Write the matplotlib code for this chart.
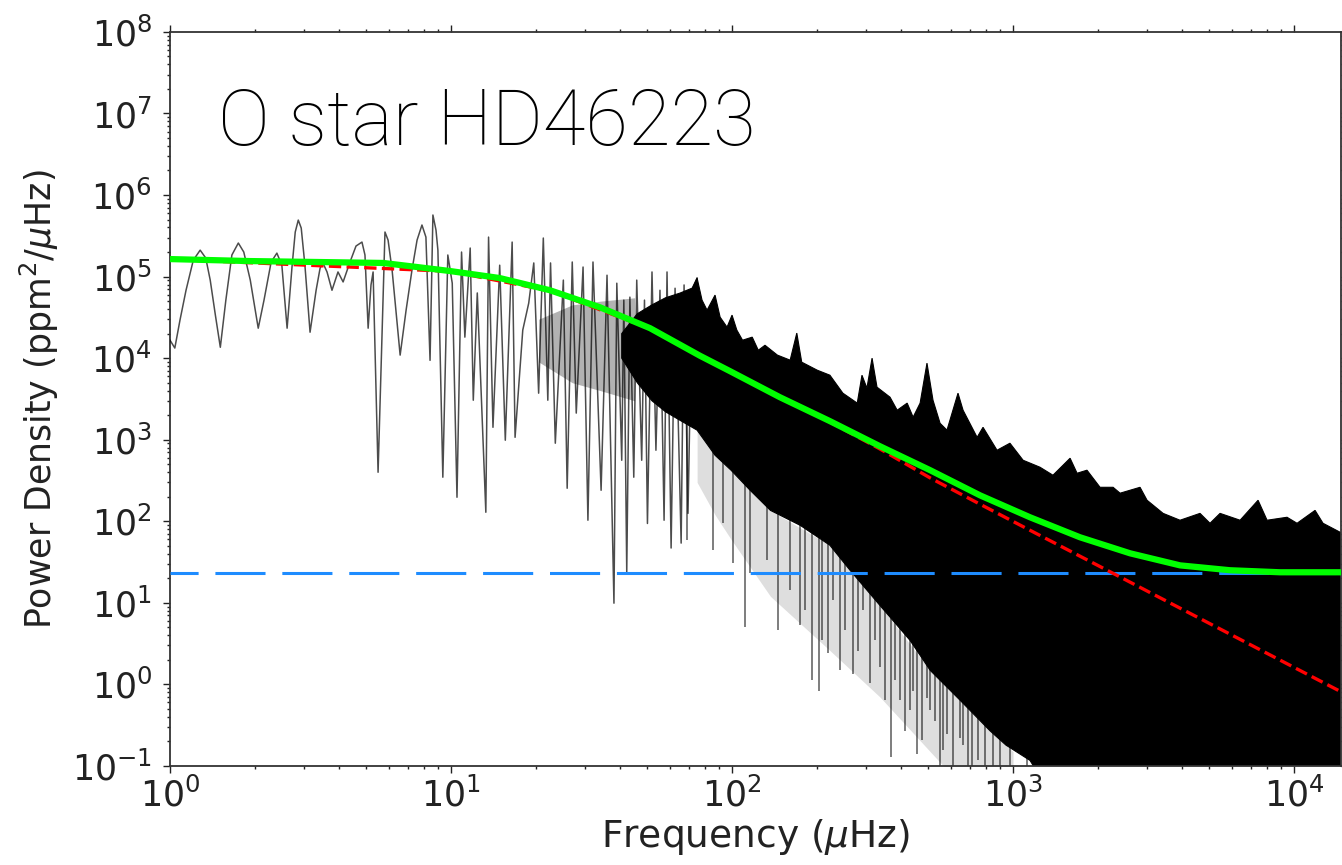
import numpy as np
import matplotlib
matplotlib.use("Agg")
import matplotlib.pyplot as plt
from matplotlib.ticker import LogLocator, NullFormatter

# ---------------- data ----------------
# low-frequency part of the power spectrum (individually resolved wiggles + spikes)
spec_freq = [1.00, 1.04, 1.085, 1.14, 1.21, 1.28, 1.34, 1.39, 1.45, 1.51, 1.58, 1.66,
             1.75, 1.83, 1.93, 2.06, 2.16, 2.29, 2.40, 2.50, 2.61, 2.72, 2.79, 2.86,
             2.93, 3.02, 3.15, 3.31, 3.42, 3.50, 3.62, 3.77, 3.96, 4.13, 4.37, 4.59,
             4.82, 4.94, 5.07, 5.19, 5.28, 5.50, 5.82, 5.97, 6.17, 6.59, 6.92, 7.26,
             7.57, 7.88, 8.14, 8.42, 8.62, 8.84, 8.98, 9.35, 9.74, 10.1, 10.5, 10.9,
             11.2, 11.7, 12.0, 12.4, 13.3, 13.6, 14.1, 14.9, 15.6, 16.5, 16.9, 18.0,
             18.9, 19.7, 20.5, 21.3, 22.1, 22.6, 23.5, 25.1, 25.9, 27.0, 27.9, 29.5,
             30.7, 32.0, 34.2, 35.9, 38.0, 38.9, 40.5, 41.2, 42.2, 43.3, 44.7, 45.8,
             47.7, 48.8, 50.0, 51.9, 53.6, 55.4, 57.3, 58.7, 60.7, 62.7, 65.9, 67.5,
             69.7, 72.1, 75.1]
spec_power = [1.66e4, 1.33e4, 2.93e4, 6.8e4, 1.59e5, 2.11e5, 1.69e5, 9.06e4, 3.37e4, 1.36e4, 5.15e4, 1.84e5,
              2.58e5, 2.0e5, 9.06e4, 2.33e4, 5.15e4, 1.51e5, 1.94e5, 1.38e5, 2.33e4, 1.38e5, 3.52e5, 4.93e5,
              3.94e5, 1.38e5, 2.08e4, 6.8e4, 1.27e5, 1.47e5, 1.14e5, 6.8e4, 1.14e5, 8.6e4, 1.51e5, 2.37e5,
              2.65e5, 1.84e5, 2.33e4, 7.9e4, 1.14e5, 399, 3.52e5, 2.8e5, 1.2e5, 1.09e4, 3.88e4, 1.2e5,
              2.8e5, 4.29e5, 3.05e5, 9.4e3, 5.69e5, 3.72e5, 2.11e5, 347, 1.84e5, 8.3e4, 197, 2.0e5,
              1.81e4, 2.24e5, 3.05e3, 6.3e4, 129, 3.05e5, 1.42e3, 1.38e5, 986, 2.65e5, 1.07e3, 2.21e4,
              4.73e4, 1.47e5, 3.72e3, 2.97e5, 3.05e3, 1.47e5, 906, 9.06e4, 254, 1.51e5, 2.12e3, 1.31e5,
              103, 1.51e5, 240, 1.04e5, 9.9, 8.3e4, 560, 5.15e4, 23.7, 5.6e4, 347, 9.06e4,
              560, 5.15e4, 94, 1.14e5, 743, 6.8e4, 103, 1.14e5, 47, 7.2e4, 54, 7.9e4,
              125, 6.8e4, 9.6e4]

# semi-dense body of overlapping periodogram lines (20-45 uHz)
body_freq = [20.5, 27.0, 34.0, 45.0]
body_upper = [3.0e4, 4.5e4, 5.0e4, 5.5e4]
body_lower = [9.0e3, 5.0e3, 4.0e3, 3.0e3]

# upper edge of the fully dense (black) part of the spectrum
top_freq = [40.5, 46.0, 51.9, 58.0, 65.3, 72.1, 75.1, 78.2, 81.5, 87.0, 90.7, 96.0, 100, 104, 109,
            118, 124, 131, 145, 161, 170, 177, 201, 223, 248, 279, 290, 302, 315, 328, 365, 387,
            420, 441, 467, 494, 519, 550, 582, 637, 664, 745, 782, 877, 975, 1086, 1247, 1387,
            1596, 1690, 1833, 2040, 2270, 2404, 2831, 2999, 3420, 3929, 4628, 5023, 5454, 6427,
            7447, 8017, 9441, 10250, 11880, 12680, 14820]
top_power = [2.0e4, 3.5e4, 4.5e4, 5.5e4, 6.28e4, 7.22e4, 9.6e4, 5.15e4, 3.88e4, 5.93e4, 3.18e4, 2.40e4,
             3.37e4, 2.21e4, 1.66e4, 1.81e4, 1.25e4, 1.44e4, 1.09e4, 9.45e3, 2.03e4, 8.93e3, 7.12e3,
             6.18e3, 3.72e3, 2.81e3, 6.18e3, 4.29e3, 1.0e4, 4.41e3, 3.32e3, 2.30e3, 2.81e3, 1.89e3,
             2.81e3, 8.69e3, 3.05e3, 1.59e3, 1.31e3, 3.72e3, 2.30e3, 1.07e3, 1.42e3, 743, 906, 560,
             460, 367, 593, 388, 423, 261, 261, 221, 261, 181, 125, 103, 125, 94.5, 125, 103, 181,
             103, 112, 94.5, 136, 94.5, 71.3]

# lower edge of the fully dense (black) part
bot_freq = [40.5, 46.0, 51.9, 58.0, 65.3, 75.1, 87.0, 99.2, 116, 137, 175, 223, 263, 336, 430,
            507, 648, 828, 944, 1149, 1469, 14820]
bot_power = [1.0e4, 5.0e3, 3.0e3, 2.2e3, 1.73e3, 1.31e3, 645, 423, 240, 136, 89, 50.8, 25.1, 9.3,
             3.47, 1.49, 0.64, 0.27, 0.18, 0.117, 0.03, 0.03]

# faint grey haze of overlapping spikes just below the dense part
haze_freq = [75.1, 87.0, 99.2, 137, 223, 336, 507, 648, 828, 1000]
haze_lower = [300, 120, 60, 12, 2.6, 0.7, 0.15, 0.06, 0.05, 0.05]
haze_upper = [1.31e3, 645, 423, 136, 50.8, 9.3, 1.49, 0.64, 0.27, 0.15]

# isolated downward spikes below the dense part
dip_freq = [69.2, 85.6, 92.9, 101, 111, 116, 133, 146, 161, 175, 182, 193, 204, 209, 220, 229,
            242, 253, 270, 281, 293, 310, 323, 336, 350, 368, 380, 396, 413, 430, 441, 455, 475,
            494, 507, 528, 550, 564, 582, 611, 648, 664, 692, 715, 750, 795, 849, 899, 975,
            1122, 1247, 1387]
dip_power = [58.5, 44.1, 94.5, 30.5, 5.0, 23.0, 33.2, 4.6, 14.2, 5.3, 8.1, 1.12, 0.84, 3.47, 2.40,
             10.7, 1.49, 4.6, 1.36, 2.6, 8.1, 1.03, 3.47, 1.62, 0.64, 0.127, 1.12, 0.64, 0.27, 0.48,
             0.84, 0.142, 0.21, 0.69, 0.48, 0.36, 0.05, 0.155, 0.25, 0.05, 0.22, 0.18, 0.05, 0.05,
             0.117, 0.05, 0.05, 0.05, 0.05, 0.05, 0.05, 0.05]

# fitted model (green) and Harvey component (red)
model_freq = [1.00, 1.93, 3.34, 5.73, 7.57, 9.92, 14.9, 22.5, 33.9, 51.1, 76.9, 98.4, 148, 223,
              336, 507, 763, 1149, 1730, 2608, 3929, 5918, 8913, 14700]
model_power = [1.64e5, 1.55e5, 1.51e5, 1.47e5, 1.31e5, 1.17e5, 9.6e4, 6.8e4, 4.2e4, 2.33e4,
               1.07e4, 6.92e3, 3.32e3, 1.69e3, 832, 423, 208, 112, 63.7, 40.5, 28.8, 25.1,
               23.7, 23.7]
harvey_freq = [1.00, 9.92, 22.5, 51.1, 98.4, 148, 223, 336, 507, 763, 1149, 2270, 5150, 14820]
harvey_power = [1.63e5, 1.16e5, 6.7e4, 2.3e4, 6.8e3, 3.25e3, 1.65e3, 770, 340, 162, 77.6, 23.0,
                5.3, 0.80]
noise_level = 23.5

x_limits = (1.0, 1.47e4)
y_limits = (0.1, 1.0e8)

# ---------------- figure ----------------
fig = plt.figure(figsize=(13.42, 8.65), dpi=100)
ax = fig.add_axes([0.1267, 0.1145, 0.8726, 0.8486])
ax.set_xscale('log')
ax.set_yscale('log')

ax.fill_between(body_freq, body_lower, body_upper, color='black', alpha=0.3, lw=0, zorder=1)
ax.fill_between(haze_freq, haze_lower, haze_upper, color='black', alpha=0.13, lw=0, zorder=1)
ax.fill(np.r_[top_freq, bot_freq[::-1]], np.r_[top_power, bot_power[::-1]],
        color='black', lw=0.8, zorder=2)
dip_freq_a = np.array(dip_freq)
dip_top = np.where(dip_freq_a > 400, 50.0, 2.0e3)
ax.vlines(dip_freq_a, dip_power, dip_top, color='black', lw=1.3, alpha=0.55, zorder=2)
ax.plot(spec_freq, spec_power, color='black', lw=1.1, alpha=0.7, zorder=3)

ax.plot(x_limits, [noise_level, noise_level], color='#1e8cff', lw=2.2,
        linestyle=(7.2, (16.4, 5.5)), zorder=4)
ax.plot(harvey_freq, harvey_power, color='#ff0000', lw=2.4, linestyle='--', zorder=5)
ax.plot(model_freq, model_power, color='#00ff00', lw=4.5, zorder=6, solid_capstyle='butt')

ax.set_xlim(*x_limits)
ax.set_ylim(*y_limits)
ax.yaxis.set_major_locator(LogLocator(base=10, numticks=20))
ax.yaxis.set_minor_locator(LogLocator(base=10, subs=np.arange(2, 10), numticks=20))
ax.xaxis.set_major_locator(LogLocator(base=10, numticks=20))
ax.xaxis.set_minor_locator(LogLocator(base=10, subs=np.arange(2, 10), numticks=20))
ax.xaxis.set_minor_formatter(NullFormatter())
ax.yaxis.set_minor_formatter(NullFormatter())

ax.tick_params(which='both', direction='out', top=True, right=True, width=1.0, colors='#222222')
ax.tick_params(which='major', length=5, labelsize=25, labelcolor='#222222')
ax.tick_params(axis='y', which='major', pad=8)
ax.tick_params(which='minor', length=2.5)
for s in ax.spines.values():
    s.set_linewidth(1.3)
    s.set_color('#333333')

ax.set_xlabel(r'Frequency ($\mu$Hz)', fontsize=27, color='#222222', labelpad=2)
ax.set_ylabel(r'Power Density (ppm$^2$/$\mu$Hz)', fontsize=25, color='#222222', labelpad=8)

ax.text(0.041, 0.846, 'O star HD46223', transform=ax.transAxes, fontsize=56,
        family=['Roboto', 'DejaVu Sans'], fontweight='light', color='black', va='baseline', ha='left')

fig.savefig('out.png', dpi=100)
